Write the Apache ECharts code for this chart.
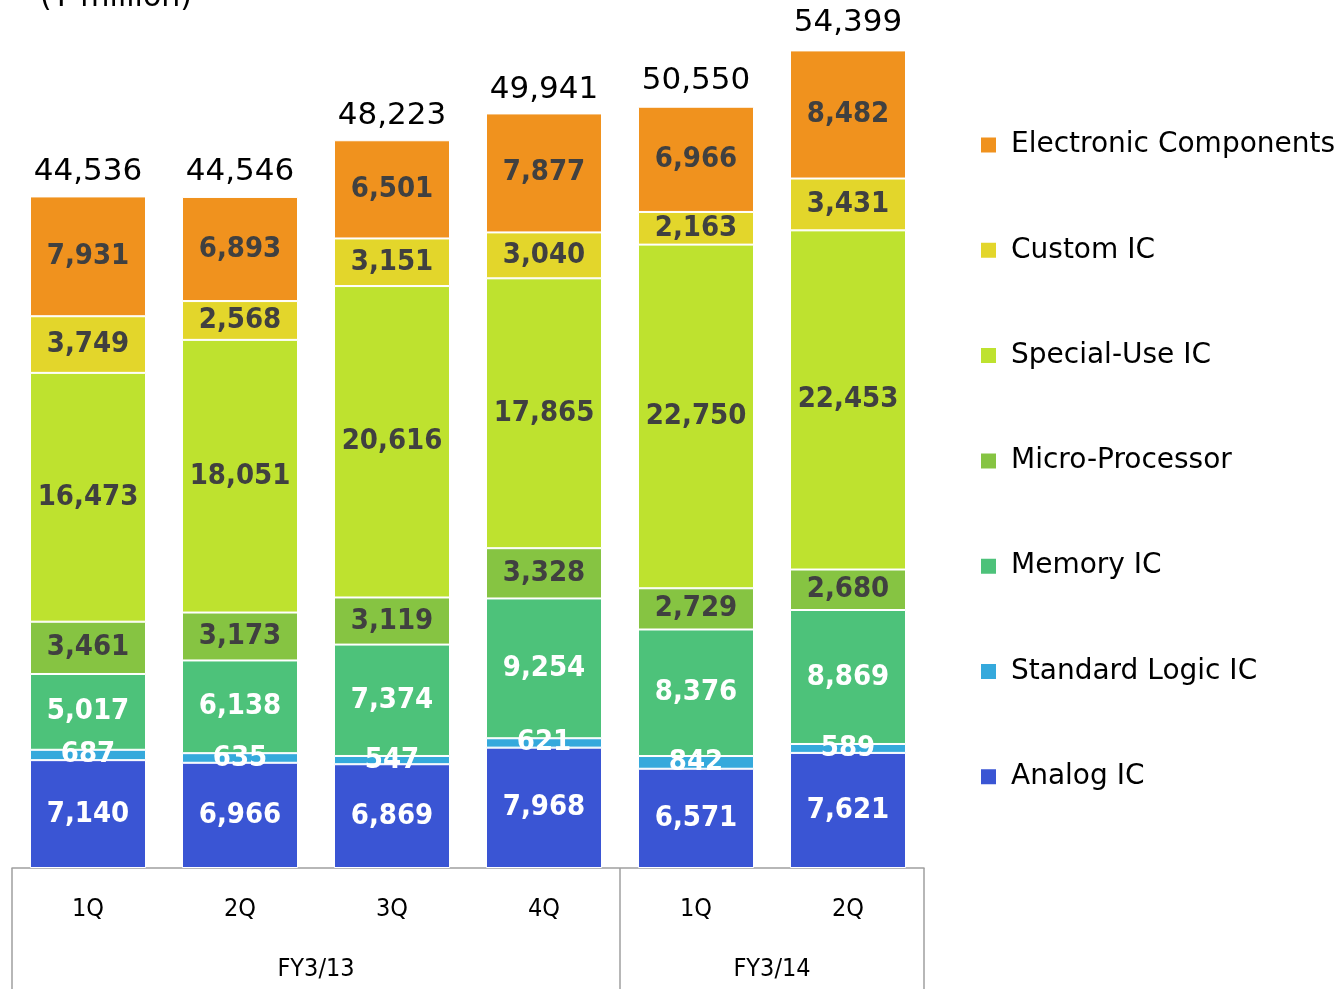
<!DOCTYPE html>
<html>
<head>
<meta charset="utf-8">
<script src="https://cdn.jsdelivr.net/npm/echarts@6/dist/echarts.min.js"></script>
<style>html,body{margin:0;padding:0;background:#fff;}#c{width:1344px;height:989px;}</style>
</head>
<body>
<div id="c"></div>
<script>
const quarters = ['1Q', '2Q', '3Q', '4Q', '1Q', '2Q'];
const fiscalYears = ['FY3/13', 'FY3/14'];
const fiscalYearCenters = [2, 5];
const fiscalYearBounds = [0, 4, 6];
const analogIC = [7140, 6966, 6869, 7968, 6571, 7621];
const standardLogicIC = [687, 635, 547, 621, 842, 589];
const memoryIC = [5017, 6138, 7374, 9254, 8376, 8869];
const microProcessor = [3461, 3173, 3119, 3328, 2729, 2680];
const specialUseIC = [16473, 18051, 20616, 17865, 22750, 22453];
const customIC = [3749, 2568, 3151, 3040, 2163, 3431];
const electronicComponents = [7931, 6893, 6501, 7877, 6966, 8482];
const totals = [44536, 44546, 48223, 49941, 50550, 54399];

const fmt = v => Number(v).toLocaleString('en-US');
const dark = '#404040';
const seriesDefs = [
  { name: 'Analog IC', data: analogIC, color: '#3A55D4', label: '#ffffff' },
  { name: 'Standard Logic IC', data: standardLogicIC, color: '#35A9DC', label: '#ffffff' },
  { name: 'Memory IC', data: memoryIC, color: '#4DC27A', label: '#ffffff' },
  { name: 'Micro-Processor', data: microProcessor, color: '#86C442', label: dark },
  { name: 'Special-Use IC', data: specialUseIC, color: '#BEE22F', label: dark },
  { name: 'Custom IC', data: customIC, color: '#E3D62B', label: dark },
  { name: 'Electronic Components', data: electronicComponents, color: '#F0921E', label: dark }
];

const series = seriesDefs.map(d => ({
  name: d.name,
  type: 'bar',
  stack: 'total',
  barWidth: 116,
  data: d.data,
  itemStyle: { color: d.color, borderColor: '#ffffff', borderWidth: 1 },
  label: {
    show: true,
    position: 'inside',
    formatter: p => fmt(p.value),
    color: d.label,
    fontFamily: '"DejaVu Sans Condensed", "DejaVu Sans", sans-serif',
    fontWeight: 'bold',
    fontSize: 29
  },
  emphasis: { disabled: true }
}));
series.push({
  name: 'Total',
  type: 'bar',
  barWidth: 116,
  barGap: '-100%',
  data: totals,
  z: 0,
  silent: true,
  itemStyle: { color: 'rgba(0,0,0,0)' },
  label: {
    show: true,
    position: 'top',
    distance: 8,
    formatter: p => fmt(p.value),
    color: '#000',
    fontFamily: '"DejaVu Sans", sans-serif',
    fontSize: 31
  }
});

const chart = echarts.init(document.getElementById('c'));
chart.setOption({
  animation: false,
  backgroundColor: '#ffffff',
  title: {
    text: '(¥ million)',
    left: 35,
    top: -22,
    textStyle: { fontFamily: '"DejaVu Sans", sans-serif', fontSize: 30, fontWeight: 'normal', color: '#000' }
  },
  legend: {
    orient: 'vertical',
    left: 974,
    top: 125,
    itemWidth: 35,
    itemHeight: 17,
    itemGap: 75.3,
    icon: 'path://M0,0h15v15h-15z',
    symbolKeepAspect: true,
    data: seriesDefs.map(d => d.name).reverse(),
    textStyle: { fontFamily: '"DejaVu Sans", sans-serif', fontSize: 28, color: '#000', lineHeight: 30 }
  },
  grid: { left: 12, width: 912, top: 10, bottom: 121, containLabel: false },
  xAxis: [
    {
      type: 'category',
      data: quarters,
      position: 'bottom',
      axisLine: { show: true, lineStyle: { color: '#a0a0a0', width: 1.5 } },
      axisTick: { show: false },
      axisLabel: {
        margin: 29,
        color: '#000',
        fontFamily: '"DejaVu Sans Condensed", "DejaVu Sans", sans-serif',
        fontSize: 25
      }
    },
    {
      type: 'value',
      min: 0,
      max: 6,
      position: 'bottom',
      axisLine: { show: false },
      splitLine: { show: false },
      axisTick: {
        show: true,
        inside: false,
        length: 125,
        customValues: fiscalYearBounds,
        lineStyle: { color: '#a0a0a0', width: 1.5 }
      },
      axisLabel: {
        show: true,
        margin: 89,
        customValues: fiscalYearCenters,
        formatter: v => fiscalYears[fiscalYearCenters.indexOf(v)] || '',
        color: '#000',
        fontFamily: '"DejaVu Sans Condensed", "DejaVu Sans", sans-serif',
        fontSize: 25
      }
    }
  ],
  yAxis: { type: 'value', min: 0, max: 56800, show: false },
  series: series
});
</script>
</body>
</html>
